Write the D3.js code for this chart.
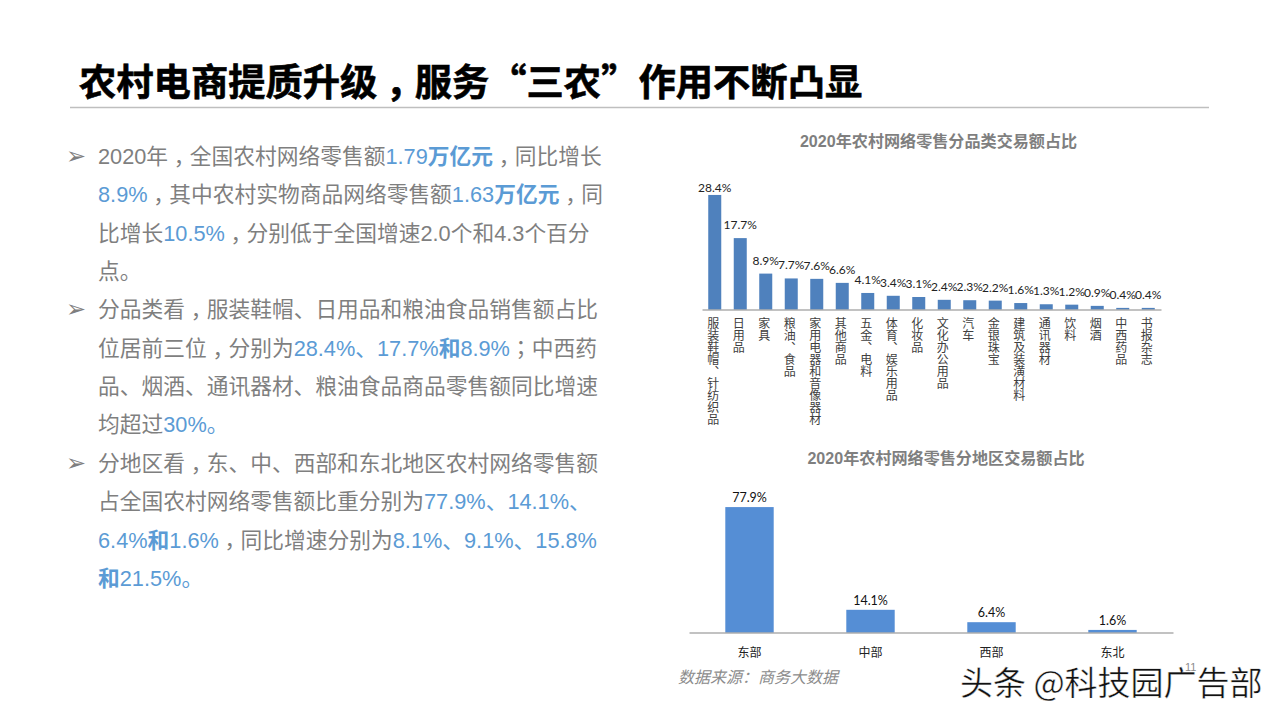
<!doctype html>
<html>
<head>
<meta charset="utf-8">
<script src="https://cdn.jsdelivr.net/npm/d3@7/dist/d3.min.js"></script>
<style>
  html, body { margin: 0; padding: 0; background: #fff; }
  svg { display: block; }
</style>
</head>
<body>
<svg width="1280" height="720"></svg>
<script>
// chart data
var categories = ["服装鞋帽、针纺织品", "日用品", "家具", "粮油、食品", "家用电器和音像器材", "其他商品", "五金、电料", "体育、娱乐用品", "化妆品", "文化办公用品", "汽车", "金银珠宝", "建筑及装潢材料", "通讯器材", "饮料", "烟酒", "中西药品", "书报杂志"];
var categoryValues = [28.4, 17.7, 8.9, 7.7, 7.6, 6.6, 4.1, 3.4, 3.1, 2.4, 2.3, 2.2, 1.6, 1.3, 1.2, 0.9, 0.4, 0.4];
var regions = ["东部", "中部", "西部", "东北"];
var regionValues = [77.9, 14.1, 6.4, 1.6];

var pageTitle = "农村电商提质升级，服务“三农”作用不断凸显";
var categoryTitle = "2020年农村网络零售分品类交易额占比";
var regionTitle = "2020年农村网络零售分地区交易额占比";
var sourceNote = "数据来源：商务大数据";
var watermark = "头条 @科技园广告部";

// body text, g = grey, b = blue, B = bold blue
var bodyLines = [
    [["2020年，全国农村网络零售额", "g"], ["1.79", "b"], ["万亿元", "B"], ["，同比增长", "g"]],
    [["8.9%", "b"], ["，其中农村实物商品网络零售额", "g"], ["1.63", "b"], ["万亿元", "B"], ["，同", "g"]],
    [["比增长", "g"], ["10.5%", "b"], ["，分别低于全国增速2.0个和4.3个百分", "g"]],
    [["点。", "g"]],
    [["分品类看，服装鞋帽、日用品和粮油食品销售额占比", "g"]],
    [["位居前三位，分别为", "g"], ["28.4%、17.7%", "b"], ["和", "B"], ["8.9%", "b"], ["；中西药", "g"]],
    [["品、烟酒、通讯器材、粮油食品商品零售额同比增速", "g"]],
    [["均超过", "g"], ["30%。", "b"]],
    [["分地区看，东、中、西部和东北地区农村网络零售额", "g"]],
    [["占全国农村网络零售额比重分别为", "g"], ["77.9%、14.1%、", "b"]],
    [["6.4%", "b"], ["和", "B"], ["1.6%", "b"], ["，同比增速分别为", "g"], ["8.1%、9.1%、15.8%", "b"]],
    [["和", "B"], ["21.5%。", "b"]]
];
var bulletLines = [0, 4, 8];

var svg = d3.select("svg");
var CJK = "'Liberation Sans', 'Noto Sans CJK SC', sans-serif";
var GREY = "#7f7f7f", BLUE = "#5b9bd5";

// the reference font centres ， and ； in their cell. The TC cut does that too,
// but sets the comma mid height, so drop it back to the baseline
function addRuns(t, str, size) {
    var drop = size * 0.32;
    var after = false;
    str.split(/([，；])/).forEach(function (part) {
        if (part === "") return;
        var span = t.append("tspan").text(part);
        if (part === "，" || part === "；") {
            span.style("font-family", "'Noto Sans CJK TC', sans-serif");
        }
        if (part === "，") span.attr("dy", drop);
        else if (after) span.attr("dy", -drop);
        after = part === "，";
    });
}

// header
var titleText = svg.append("text")
    .attr("x", 79).attr("y", 96)
    .style("font-family", "'Noto Sans CJK SC', sans-serif")
    .style("font-size", "37.3px")
    .style("font-weight", 700)
    .style("stroke", "#000").style("stroke-width", 0.6);
addRuns(titleText, pageTitle, 37.3);

svg.append("line")
    .attr("x1", 70).attr("x2", 1209)
    .attr("y1", 107.5).attr("y2", 107.5)
    .style("stroke", "#bfbfbf").style("stroke-width", 1.5);

// left text block
var body = svg.append("g");
bodyLines.forEach(function (segments, i) {
    var y = 164 + i * 38.35;
    var t = body.append("text")
        .attr("x", 98).attr("y", y)
        .style("font-family", CJK)
        .style("font-size", "21.74px");
    segments.forEach(function (s) {
        var g = t.append("tspan")
            .style("fill", s[1] === "g" ? GREY : BLUE)
            .style("font-weight", s[1] === "B" ? 700 : 400);
        addRuns(g, s[0], 21.74);
    });
    if (bulletLines.indexOf(i) >= 0) {
        body.append("text")
            .attr("x", 66).attr("y", y)
            .style("font-family", "'DejaVu Sans'")
            .style("font-size", "24px")
            .style("fill", GREY)
            .text("➢");
    }
});

// category chart
svg.append("text")
    .attr("x", 938.5).attr("y", 147)
    .attr("text-anchor", "middle")
    .style("font-family", CJK).style("font-size", "16.1px").style("font-weight", 700)
    .style("fill", GREY)
    .text(categoryTitle);

var x1 = d3.scaleBand().domain(categories).range([702, 1161]).paddingInner(0.49).paddingOuter(0.245);
var y1 = d3.scaleLinear().domain([0, 30]).range([309.5, 188.5]);

svg.append("g").selectAll("rect")
    .data(categories)
    .enter()
    .append("rect")
    .attr("x", function (d) { return x1(d); })
    .attr("width", x1.bandwidth())
    .attr("y", function (d, i) { return y1(categoryValues[i]); })
    .attr("height", function (d, i) { return y1(0) - y1(categoryValues[i]); })
    .style("fill", "#4f81bd");

svg.append("g").selectAll("text")
    .data(categories)
    .enter()
    .append("text")
    .attr("x", function (d) { return x1(d) + x1.bandwidth() / 2; })
    // first label sits tight on its bar, the rest float higher
    .attr("y", function (d, i) { return y1(categoryValues[i]) - (i === 0 ? 3 : 9); })
    .attr("text-anchor", "middle")
    .style("font-family", "Lato, sans-serif").style("font-size", "12px")
    .style("fill", "#222")
    .text(function (d, i) { return categoryValues[i].toFixed(1) + "%"; });

var axis1 = svg.append("g")
    .attr("transform", "translate(0,309.5)")
    .call(d3.axisBottom(x1).tickSize(0).tickPadding(0));
axis1.select(".domain").style("stroke", "#868686").style("stroke-width", 1.2);
axis1.selectAll("text")
    .attr("x", -1.5).attr("y", 8).attr("dy", 0)
    .style("writing-mode", "vertical-rl")
    .style("text-anchor", "start")
    .style("font-family", "'Noto Sans CJK SC', sans-serif")
    .style("font-size", "12px")
    .style("fill", "#404040");

// region chart
svg.append("text")
    .attr("x", 946).attr("y", 464)
    .attr("text-anchor", "middle")
    .style("font-family", CJK).style("font-size", "16.1px").style("font-weight", 700)
    .style("fill", GREY)
    .text(regionTitle);

var x2 = d3.scaleBand().domain(regions).range([689, 1173]).paddingInner(0.6).paddingOuter(0.3);
var y2 = d3.scaleLinear().domain([0, 80]).range([632.5, 503.7]);

svg.append("g").selectAll("rect")
    .data(regions)
    .enter()
    .append("rect")
    .attr("x", function (d) { return x2(d); })
    .attr("width", x2.bandwidth())
    .attr("y", function (d, i) { return y2(regionValues[i]); })
    .attr("height", function (d, i) { return y2(0) - y2(regionValues[i]); })
    .style("fill", "#558ed5");

svg.append("g").selectAll("text")
    .data(regions)
    .enter()
    .append("text")
    .attr("x", function (d) { return x2(d) + x2.bandwidth() / 2; })
    .attr("y", function (d, i) { return y2(regionValues[i]) - 5; })
    .attr("text-anchor", "middle")
    .style("font-family", "Lato, sans-serif").style("font-size", "12.5px")
    .style("fill", "#111")
    .text(function (d, i) { return regionValues[i].toFixed(1) + "%"; });

var axis2 = svg.append("g")
    .attr("transform", "translate(0,632.5)")
    .call(d3.axisBottom(x2).tickSize(0).tickPadding(0));
axis2.select(".domain").style("stroke", "#868686").style("stroke-width", 1.2);
axis2.selectAll("text")
    .attr("y", 24).attr("dy", 0)
    .style("font-family", "'Noto Sans CJK SC', sans-serif")
    .style("font-size", "12px")
    .style("fill", "#222");

// footer bits
svg.append("text")
    .attr("x", 678).attr("y", 683)
    .style("font-family", "'Noto Sans CJK SC', sans-serif")
    .style("font-size", "16px").style("font-style", "italic")
    .style("fill", "#8c8c8c")
    .text(sourceNote);

svg.append("text")
    .attr("x", 1185).attr("y", 671)
    .style("font-family", CJK).style("font-size", "11px")
    .style("fill", "#8c8c8c")
    .text("11");

svg.append("text")
    .attr("x", 960).attr("y", 695)
    .style("font-family", "'Noto Sans CJK SC', sans-serif")
    .style("font-size", "33px").style("font-weight", 400)
    .style("fill", "#111")
    .style("stroke", "#fff").style("stroke-width", 0.4)
    .text(watermark);
</script>
</body>
</html>
